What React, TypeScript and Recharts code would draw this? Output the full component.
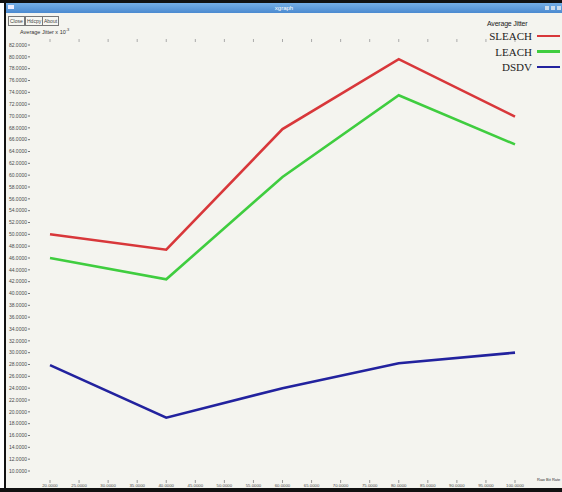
import React from "react";
import { LineChart, Line, XAxis, YAxis } from "recharts";

// x values along the bottom axis
const pauseTimes = [20, 40, 60, 80, 100];

// average jitter per protocol (x 10^-3)
const sleachJitter = [50.0, 47.4, 67.8, 79.6, 69.9];
const leachJitter = [46.0, 42.4, 59.7, 73.5, 65.2];
const dsdvJitter = [27.9, 19.0, 24.0, 28.2, 30.0];

const xTicks = [20, 25, 30, 35, 40, 45, 50, 55, 60, 65, 70, 75, 80, 85, 90, 95, 100];
const yTicks = [
  10, 12, 14, 16, 18, 20, 22, 24, 26, 28, 30, 32, 34, 36, 38, 40, 42, 44, 46,
  48, 50, 52, 54, 56, 58, 60, 62, 64, 66, 68, 70, 72, 74, 76, 78, 80, 82,
];

const series = [
  { key: "sleach", name: "SLEACH", color: "#d8373a" },
  { key: "leach", name: "LEACH", color: "#3fcd3f" },
  { key: "dsdv", name: "DSDV", color: "#22229e" },
];

const data = pauseTimes.map((x, i) => ({
  x,
  sleach: sleachJitter[i],
  leach: leachJitter[i],
  dsdv: dsdvJitter[i],
}));

const fmt = (v: number) => v.toFixed(4);
const noLabel = () => <g />;

const tickFont = { fontSize: 5, fill: "#4a4a4a", fontFamily: "Liberation Sans" };
const xTickFont = { fontSize: 4.3, fill: "#4a4a4a", fontFamily: "Liberation Sans" };

function Button({ left, text }: { left: number; text: string }) {
  return (
    <div
      style={{
        position: "absolute",
        left,
        top: 16,
        height: 8,
        padding: "0 1px",
        border: "1px solid #777",
        background: "#f7f7f2",
        fontSize: 5,
        lineHeight: "8px",
        color: "#444",
      }}
    >
      {text}
    </div>
  );
}

export default function App() {
  return (
    <div
      style={{
        position: "absolute",
        left: 0,
        top: 0,
        width: 562,
        height: 492,
        background: "#f4f4ef",
        overflow: "hidden",
        fontFamily: "Liberation Sans, sans-serif",
      }}
    >
      {/* window frame */}
      <div style={{ position: "absolute", left: 0, top: 0, width: 4, height: 492, background: "#fff" }} />
      <div style={{ position: "absolute", left: 4, top: 0, width: 2, height: 492, background: "#111" }} />
      <div style={{ position: "absolute", left: 0, top: 0, width: 562, height: 3, background: "#111" }} />
      <div style={{ position: "absolute", left: 0, top: 488, width: 562, height: 4, background: "#111" }} />
      <div
        style={{
          position: "absolute",
          left: 6,
          top: 3,
          width: 556,
          height: 10,
          background: "linear-gradient(#74aee6, #4b8ad0)",
          color: "#fff",
          fontSize: 6,
          lineHeight: "10px",
          textAlign: "center",
        }}
      >
        xgraph
      </div>
      <div style={{ position: "absolute", left: 8, top: 5, width: 6, height: 4, background: "#eef" }} />
      <div style={{ position: "absolute", left: 545, top: 6, width: 4, height: 4, background: "#cde" }} />
      <div style={{ position: "absolute", left: 551, top: 6, width: 4, height: 4, background: "#cde" }} />
      <div style={{ position: "absolute", left: 557, top: 6, width: 4, height: 4, background: "#cde" }} />

      <Button left={8} text="Close" />
      <Button left={25} text="Hdcpy" />
      <Button left={42} text="About" />

      <div style={{ position: "absolute", left: 20, top: 27, fontSize: 5.5, color: "#333" }}>
        Average Jitter x 10<sup style={{ fontSize: 4 }}>-3</sup>
      </div>

      <div style={{ position: "absolute", left: 0, top: 0 }}>
        <LineChart width={562} height={492} data={data} margin={{ top: 40, right: 19, bottom: 0, left: 8 }}>
          <XAxis
            dataKey="x"
            type="number"
            domain={[20, 100]}
            ticks={xTicks}
            interval={0}
            padding={{ left: 20, right: 22 }}
            height={12}
            tickSize={3}
            tickMargin={1}
            axisLine={false}
            tickLine={{ stroke: "#999" }}
            tick={xTickFont}
            tickFormatter={fmt}
          />
          <XAxis
            xAxisId="top"
            orientation="top"
            dataKey="x"
            type="number"
            domain={[20, 100]}
            ticks={xTicks}
            interval={0}
            padding={{ left: 20, right: 22 }}
            height={2}
            tickSize={3}
            axisLine={false}
            tickLine={{ stroke: "#aaa" }}
            tick={noLabel}
          />
          <YAxis
            type="number"
            domain={[10, 82]}
            ticks={yTicks}
            interval={0}
            padding={{ top: 3, bottom: 9 }}
            width={22}
            tickSize={2}
            tickMargin={1}
            axisLine={false}
            tickLine={{ stroke: "#777" }}
            tick={tickFont}
            tickFormatter={fmt}
          />
          <YAxis
            yAxisId="right"
            orientation="right"
            type="number"
            domain={[10, 82]}
            ticks={yTicks}
            interval={0}
            padding={{ top: 3, bottom: 9 }}
            width={6}
            tickSize={2}
            axisLine={false}
            tickLine={{ stroke: "#aaa" }}
            tick={noLabel}
          />
          {series.map((s) => (
            <Line
              key={s.key}
              type="linear"
              dataKey={s.key}
              name={s.name}
              stroke={s.color}
              strokeWidth={2.6}
              dot={false}
              isAnimationActive={false}
            />
          ))}
        </LineChart>
      </div>

      {/* x axis title, bottom right */}
      <div style={{ position: "absolute", left: 537, top: 477, fontSize: 4, color: "#333", whiteSpace: "nowrap" }}>
        Raw Bit Rate
      </div>

      {/* legend */}
      <div style={{ position: "absolute", left: 487, top: 20, fontSize: 7, color: "#222", letterSpacing: -0.2 }}>
        Average Jitter
      </div>
      {series.map((s, i) => (
        <div
          key={s.key}
          style={{
            position: "absolute",
            right: 2,
            top: 29 + i * 15.5,
            height: 14,
            display: "flex",
            alignItems: "center",
            fontFamily: "Liberation Serif, serif",
            fontSize: 11,
            color: "#222",
          }}
        >
          <span>{s.name}</span>
          <span style={{ display: "inline-block", width: 23, height: 2.5, marginLeft: 5, background: s.color }} />
        </div>
      ))}
    </div>
  );
}
